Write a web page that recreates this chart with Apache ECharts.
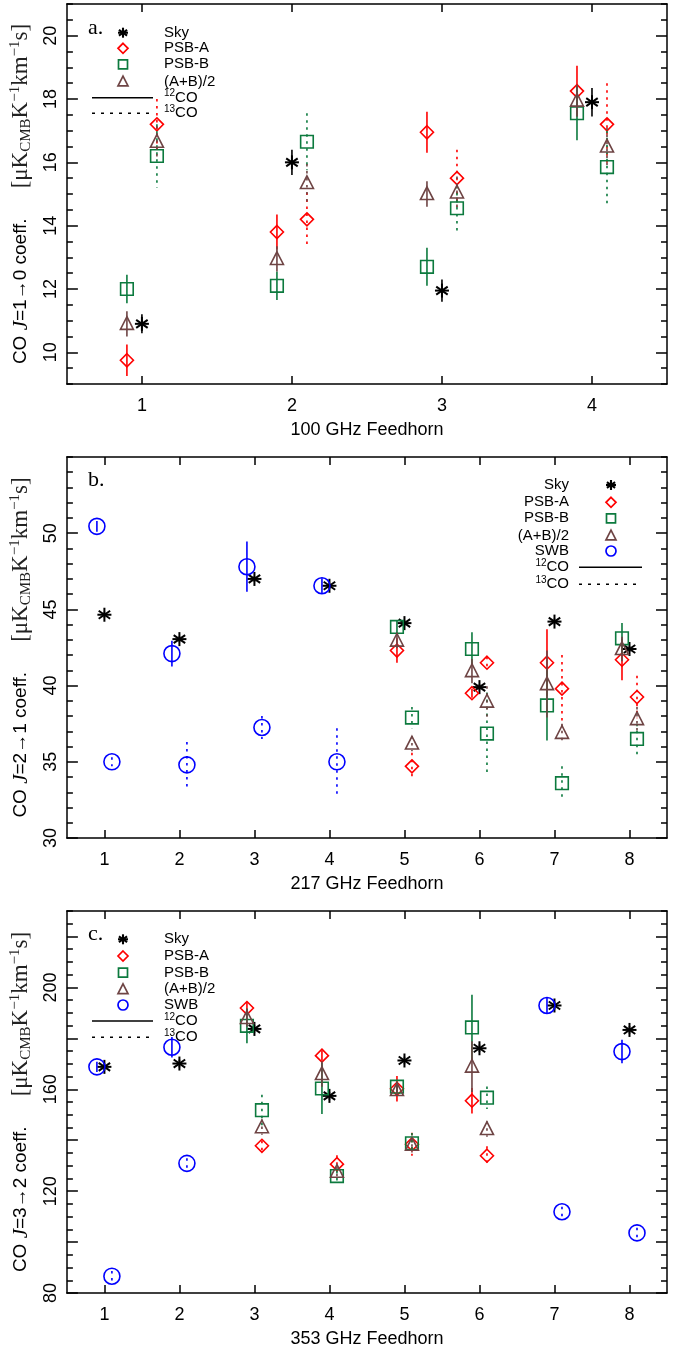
<!DOCTYPE html>
<html>
<head>
<meta charset="utf-8">
<script src="https://cdn.jsdelivr.net/npm/echarts@6/dist/echarts.min.js"></script>
<style>
html, body {margin: 0; padding: 0; background: #fff;}
#main {width: 689px; height: 1351px;}
</style>
</head>
<body>
<div id="main"></div>
<script>
// feedhorns
var feedA = [1, 2, 3, 4];
var feedB = [1, 2, 3, 4, 5, 6, 7, 8];
var feedC = [1, 2, 3, 4, 5, 6, 7, 8];

// y tick labels / major ticks
var yLabelsA = [10, 12, 14, 16, 18, 20];
var yMajorA = [10, 12, 14, 16, 18, 20];
var yLabelsB = [30, 35, 40, 45, 50];
var yMajorB = [30, 35, 40, 45, 50];
var yLabelsC = [80, 120, 160, 200];
var yMajorC = [80, 100, 120, 140, 160, 180, 200, 220];

// a. 100 GHz, CO 1-0
var aSky = [10.9, 16.0, 11.95, 17.9];
var aSkyErr = [0.3, 0.4, 0.35, 0.45];
var aA12 = [9.75, 13.8, 16.95, 18.25];
var aA12Err = [0.5, 0.55, 0.65, 0.8];
var aB12 = [12.0, 12.1, 12.7, 17.55];
var aB12Err = [0.45, 0.45, 0.6, 0.85];
var aAB12 = [10.9, 12.95, 15.0, 17.95];
var aAB12Err = [0.4, 0.4, 0.4, 0.5];
var aA13 = [17.2, 14.2, 15.5, 17.2];
var aA13Err = [0.8, 0.85, 0.9, 1.3];
var aB13 = [16.2, 16.65, 14.55, 15.85];
var aB13Err = [1.0, 0.9, 0.7, 1.15];
var aAB13 = [16.65, 15.35, 15.05, 16.5];
var aAB13Err = [0.5, 0.6, 0.5, 0.6];

// b. 217 GHz, CO 2-1
var bSky = [44.65, 43.05, 47.0, 46.55, 44.1, 39.9, 44.2, 42.4];
var bSkyErr = [0.2, 0.2, 0.2, 0.2, 0.2, 0.2, 0.2, 0.2];
var bSwb12 = [50.45, 42.1, 47.8, 46.55, null, null, null, null];
var bSwb12Err = [0.35, 0.85, 1.65, 0.5, 0, 0, 0, 0];
var bSwb13 = [35.0, 34.8, 37.25, 35.0, null, null, null, null];
var bSwb13Err = [0.3, 1.5, 0.75, 2.2, 0, 0, 0, 0];
var bA12 = [null, null, null, null, 42.3, 39.5, 41.5, 41.7];
var bA12Err = [0, 0, 0, 0, 0.8, 0.3, 2.2, 1.35];
var bB12 = [null, null, null, null, 43.85, 42.4, 38.7, 43.1];
var bB12Err = [0, 0, 0, 0, 0.4, 1.1, 2.3, 1.0];
var bAB12 = [null, null, null, null, 42.95, 40.95, 40.1, 42.4];
var bAB12Err = [0, 0, 0, 0, 0.5, 0.8, 2.2, 0.8];
var bA13 = [null, null, null, null, 34.7, 41.5, 39.8, 39.25];
var bA13Err = [0, 0, 0, 0, 0.9, 0.4, 2.2, 1.4];
var bB13 = [null, null, null, null, 37.9, 36.85, 33.6, 36.5];
var bB13Err = [0, 0, 0, 0, 0.7, 2.7, 1.1, 1.0];
var bAB13 = [null, null, null, null, 36.2, 38.95, 36.9, 37.8];
var bAB13Err = [0, 0, 0, 0, 0.5, 1.0, 0.6, 0.8];

// c. 353 GHz, CO 3-2
var cSky = [168.8, 170.1, 183.7, 157.4, 171.3, 176.1, 192.9, 183.3];
var cSkyErr = [1.5, 1.5, 1.5, 1.5, 1.5, 1.5, 1.5, 1.5];
var cSwb12 = [168.8, 176.5, null, null, null, null, 192.9, 174.8];
var cSwb12Err = [2, 4, 0, 0, 0, 0, 3, 4.6];
var cSwb13 = [86.6, 130.9, null, null, null, null, 111.9, 103.6];
var cSwb13Err = [2, 2, 0, 0, 0, 0, 2, 2];
var cA12 = [null, null, 191.9, 173.2, 160.2, 155.5, null, null];
var cA12Err = [0, 0, 2.5, 2, 5, 5, 0, 0];
var cB12 = [null, null, 184.9, 160.3, 161.0, 184.3, null, null];
var cB12Err = [0, 0, 6.8, 10, 2, 12.8, 0, 0];
var cAB12 = [null, null, 188.0, 166.0, 159.7, 168.9, null, null];
var cAB12Err = [0, 0, 3.5, 5, 2, 10, 0, 0];
var cA13 = [null, null, 137.8, 130.6, 138.4, 133.9, null, null];
var cA13Err = [0, 0, 2, 3.5, 4.5, 3.7, 0, 0];
var cB13 = [null, null, 151.8, 125.9, 138.8, 156.7, null, null];
var cB13Err = [0, 0, 6, 2, 4, 4.4, 0, 0];
var cAB13 = [null, null, 145.1, 127.6, 138.2, 144.4, null, null];
var cAB13Err = [0, 0, 3, 2, 3, 3, 0, 0];

var RED = '#ff0000', GREEN = '#0c7a3e', BROWN = '#6e4444', BLUE = '#0000ff', BLACK = '#000000';
var SANS = 'Liberation Sans, Arial, sans-serif';
var SERIF = 'Liberation Serif, Times New Roman, serif';

var grids = [
    {left: 66, top: 4, width: 601, height: 380},
    {left: 66, top: 457, width: 601, height: 381},
    {left: 66, top: 911, width: 601, height: 382}
];

function range(a, b, step) {
    var out = [];
    for (var v = a; v <= b + 1e-9; v += step) out.push(Math.round(v * 1000) / 1000);
    return out;
}

// marker shapes
function marker(shape, cx, cy, s, color, lw) {
    var st = {stroke: color, fill: 'none', lineWidth: lw};
    if (shape === 'diamond') {
        return {type: 'polygon', shape: {points: [[cx, cy - s], [cx + s, cy], [cx, cy + s], [cx - s, cy]]}, style: st};
    }
    if (shape === 'square') {
        return {type: 'rect', shape: {x: cx - s, y: cy - s, width: 2 * s, height: 2 * s}, style: st};
    }
    if (shape === 'triangle') {
        return {type: 'polygon', shape: {points: [[cx, cy - s * 1.1], [cx + s, cy + s * 0.85], [cx - s, cy + s * 0.85]]}, style: st};
    }
    if (shape === 'circle') {
        return {type: 'circle', shape: {cx: cx, cy: cy, r: s}, style: st};
    }
    // asterisk
    var kids = [];
    var angs = [90, 35, -35, 0];
    for (var i = 0; i < angs.length; i++) {
        var a = angs[i] * Math.PI / 180;
        var dx = Math.cos(a) * s, dy = Math.sin(a) * s;
        kids.push({type: 'line', shape: {x1: cx - dx, y1: cy - dy, x2: cx + dx, y2: cy + dy}, style: {stroke: color, lineWidth: lw + 0.4}});
    }
    return {type: 'group', children: kids};
}

function points(feeds, vals, errs, off) {
    var d = [];
    for (var i = 0; i < feeds.length; i++) {
        if (vals[i] === null) continue;
        d.push([feeds[i] + off, vals[i], errs[i]]);
    }
    return d;
}

function pointSeries(g, name, data, shape, color, dotted, size) {
    return {
        type: 'custom',
        name: name,
        xAxisIndex: 2 * g,
        yAxisIndex: 4 * g,
        clip: false,
        data: data,
        renderItem: function (params, api) {
            var x = api.value(0), y = api.value(1), e = api.value(2);
            var c = api.coord([x, y]);
            var t = api.coord([x, y + e]);
            var b = api.coord([x, y - e]);
            return {
                type: 'group',
                children: [
                    {type: 'line', shape: {x1: c[0], y1: t[1], x2: c[0], y2: b[1]},
                        style: {stroke: color, lineWidth: 1.6, lineDash: dotted ? [2.5, 4.5] : null}},
                    marker(shape, c[0], c[1], size, color, 1.6)
                ]
            };
        }
    };
}

var xAxes = [], yAxes = [];
function addAxes(g, xmax, feeds, ymin, ymax, major, labels, minorStep, xName, yName) {
    var minor = range(ymin, ymax, minorStep).filter(function (v) { return major.indexOf(v) < 0; });
    var line = {show: true, lineStyle: {color: '#000', width: 1.5}};
    var xl = {fontFamily: SANS, fontSize: 18, color: '#000', margin: 13, customValues: feeds};
    xAxes.push({type: 'value', gridIndex: g, min: 0.5, max: xmax, position: 'bottom',
        axisLine: line, splitLine: {show: false},
        axisTick: {inside: true, length: 8, customValues: feeds, lineStyle: {color: '#000', width: 1.5}},
        axisLabel: xl,
        name: xName, nameLocation: 'middle', nameGap: 37,
        nameTextStyle: {fontFamily: SANS, fontSize: 18, color: '#000'}});
    xAxes.push({type: 'value', gridIndex: g, min: 0.5, max: xmax, position: 'top',
        axisLine: line, splitLine: {show: false},
        axisTick: {inside: true, length: 8, customValues: feeds, lineStyle: {color: '#000', width: 1.5}},
        axisLabel: {show: false}});
    var nameRich = {
        t: {fontFamily: SANS, fontSize: 19, color: '#000', lineHeight: 26},
        gap: {fontFamily: SANS, fontSize: 19, width: 30, lineHeight: 26},
        it: {fontFamily: SERIF, fontStyle: 'italic', fontSize: 21, color: '#000', lineHeight: 26},
        s: {fontFamily: SERIF, fontSize: 23, color: '#222', lineHeight: 26},
        sub: {fontFamily: SERIF, fontSize: 15, color: '#222', verticalAlign: 'bottom', lineHeight: 26},
        sup: {fontFamily: SERIF, fontSize: 15, color: '#222', verticalAlign: 'top', lineHeight: 20}
    };
    yAxes.push({type: 'value', gridIndex: g, min: ymin, max: ymax, position: 'left',
        axisLine: line, splitLine: {show: false},
        axisTick: {inside: true, length: 11, customValues: major, lineStyle: {color: '#000', width: 1.5}},
        axisLabel: {rotate: 90, fontFamily: SANS, fontSize: 18, color: '#000', margin: 7, customValues: labels},
        name: yName, nameLocation: 'middle', nameGap: 27, nameRotate: 90,
        nameTextStyle: {rich: nameRich}});
    yAxes.push({type: 'value', gridIndex: g, min: ymin, max: ymax, position: 'left',
        axisLine: {show: false}, splitLine: {show: false},
        axisTick: {inside: true, length: 6, customValues: minor, lineStyle: {color: '#000', width: 1.5}},
        axisLabel: {show: false}});
    yAxes.push({type: 'value', gridIndex: g, min: ymin, max: ymax, position: 'right',
        axisLine: line, splitLine: {show: false},
        axisTick: {inside: true, length: 11, customValues: major, lineStyle: {color: '#000', width: 1.5}},
        axisLabel: {show: false}});
    yAxes.push({type: 'value', gridIndex: g, min: ymin, max: ymax, position: 'right',
        axisLine: {show: false}, splitLine: {show: false},
        axisTick: {inside: true, length: 6, customValues: minor, lineStyle: {color: '#000', width: 1.5}},
        axisLabel: {show: false}});
}

function yTitle(tr) {
    return '{t|CO }{it|J}{t|=' + tr + ' coeff.}{gap|}{s|[μK}{sub|CMB}{s|K}{sup|−1}{s|km}{sup|−1}{s|s]}';
}

addAxes(0, 4.5, feedA, 9, 21, yMajorA, yLabelsA, 0.5, '100 GHz Feedhorn', yTitle('1→0'));
addAxes(1, 8.5, feedB, 30, 55, yMajorB, yLabelsB, 1, '217 GHz Feedhorn', yTitle('2→1'));
addAxes(2, 8.5, feedC, 80, 230, yMajorC, yLabelsC, 5, '353 GHz Feedhorn', yTitle('3→2'));

var series = [
    pointSeries(0, 'Sky', points(feedA, aSky, aSkyErr, 0), 'asterisk', BLACK, false, 7),
    pointSeries(0, 'PSB-A 12', points(feedA, aA12, aA12Err, -0.1), 'diamond', RED, false, 6.5),
    pointSeries(0, 'PSB-B 12', points(feedA, aB12, aB12Err, -0.1), 'square', GREEN, false, 6.3),
    pointSeries(0, 'AB 12', points(feedA, aAB12, aAB12Err, -0.1), 'triangle', BROWN, false, 6.5),
    pointSeries(0, 'PSB-A 13', points(feedA, aA13, aA13Err, 0.1), 'diamond', RED, true, 6.5),
    pointSeries(0, 'PSB-B 13', points(feedA, aB13, aB13Err, 0.1), 'square', GREEN, true, 6.3),
    pointSeries(0, 'AB 13', points(feedA, aAB13, aAB13Err, 0.1), 'triangle', BROWN, true, 6.5),

    pointSeries(1, 'Sky', points(feedB, bSky, bSkyErr, 0), 'asterisk', BLACK, false, 7),
    pointSeries(1, 'SWB 12', points(feedB, bSwb12, bSwb12Err, -0.1), 'circle', BLUE, false, 8),
    pointSeries(1, 'SWB 13', points(feedB, bSwb13, bSwb13Err, 0.1), 'circle', BLUE, true, 8),
    pointSeries(1, 'PSB-A 12', points(feedB, bA12, bA12Err, -0.1), 'diamond', RED, false, 6.5),
    pointSeries(1, 'PSB-B 12', points(feedB, bB12, bB12Err, -0.1), 'square', GREEN, false, 6.3),
    pointSeries(1, 'AB 12', points(feedB, bAB12, bAB12Err, -0.1), 'triangle', BROWN, false, 6.5),
    pointSeries(1, 'PSB-A 13', points(feedB, bA13, bA13Err, 0.1), 'diamond', RED, true, 6.5),
    pointSeries(1, 'PSB-B 13', points(feedB, bB13, bB13Err, 0.1), 'square', GREEN, true, 6.3),
    pointSeries(1, 'AB 13', points(feedB, bAB13, bAB13Err, 0.1), 'triangle', BROWN, true, 6.5),

    pointSeries(2, 'Sky', points(feedC, cSky, cSkyErr, 0), 'asterisk', BLACK, false, 7),
    pointSeries(2, 'SWB 12', points(feedC, cSwb12, cSwb12Err, -0.1), 'circle', BLUE, false, 8),
    pointSeries(2, 'SWB 13', points(feedC, cSwb13, cSwb13Err, 0.1), 'circle', BLUE, true, 8),
    pointSeries(2, 'PSB-A 12', points(feedC, cA12, cA12Err, -0.1), 'diamond', RED, false, 6.5),
    pointSeries(2, 'PSB-B 12', points(feedC, cB12, cB12Err, -0.1), 'square', GREEN, false, 6.3),
    pointSeries(2, 'AB 12', points(feedC, cAB12, cAB12Err, -0.1), 'triangle', BROWN, false, 6.5),
    pointSeries(2, 'PSB-A 13', points(feedC, cA13, cA13Err, 0.1), 'diamond', RED, true, 6.5),
    pointSeries(2, 'PSB-B 13', points(feedC, cB13, cB13Err, 0.1), 'square', GREEN, true, 6.3),
    pointSeries(2, 'AB 13', points(feedC, cAB13, cAB13Err, 0.1), 'triangle', BROWN, true, 6.5)
];

// legends
var legendItems = [
    ['Sky', 'asterisk', BLACK],
    ['PSB-A', 'diamond', RED],
    ['PSB-B', 'square', GREEN],
    ['(A+B)/2', 'triangle', BROWN],
    ['SWB', 'circle', BLUE]
];
var graphics = [];
function addLegend(label, lx, ly, symX, textX, rows, lineX1, lineX2, rightAlign, withSwb) {
    graphics.push({type: 'text', left: lx, top: ly, style: {text: label, font: '22px ' + SERIF, fill: '#000'}});
    var n = withSwb ? 5 : 4;
    for (var i = 0; i < n; i++) {
        var it = legendItems[i];
        var m = marker(it[1], symX, rows[i], it[1] === 'square' ? 4.5 : 5, it[2], 1.7);
        graphics.push(m);
        graphics.push({type: 'text', x: textX, y: rows[i], style: {text: it[0], font: '15px ' + SANS, fill: '#000',
            textAlign: rightAlign ? 'right' : 'left', textVerticalAlign: 'middle'}});
    }
    var r12 = rows[n], r13 = rows[n + 1];
    graphics.push({type: 'line', shape: {x1: lineX1, y1: r12, x2: lineX2, y2: r12}, style: {stroke: '#000', lineWidth: 1.6}});
    graphics.push({type: 'line', shape: {x1: lineX1, y1: r13, x2: lineX2, y2: r13}, style: {stroke: '#000', lineWidth: 1.6, lineDash: [3, 6]}});
    var isos = [['12', r12], ['13', r13]];
    for (var k = 0; k < 2; k++) {
        graphics.push({type: 'text', x: textX, y: isos[k][1], style: {
            text: '{p|' + isos[k][0] + '}{q|CO}', textAlign: rightAlign ? 'right' : 'left', textVerticalAlign: 'middle',
            rich: {p: {fontFamily: SANS, fontSize: 10, fill: '#000', verticalAlign: 'top', lineHeight: 18},
                q: {fontFamily: SANS, fontSize: 15, fill: '#000', lineHeight: 18}}}});
    }
}
addLegend('a.', 88, 17, 123, 164, [32.7, 48.3, 64.3, 81.7, 97.7, 113.3], 92, 153, false, false);
addLegend('b.', 88, 469, 611, 569, [485, 502.3, 518.3, 535.7, 551, 567.3, 584.3], 579, 642, true, true);
addLegend('c.', 88, 923, 123, 164, [939.3, 956, 972.7, 989.3, 1005, 1021, 1037.3], 92, 153, false, true);

var myChart = echarts.init(document.getElementById('main'), null, {renderer: 'canvas'});
myChart.setOption({
    animation: false,
    backgroundColor: '#fff',
    grid: grids,
    xAxis: xAxes,
    yAxis: yAxes,
    series: series,
    graphic: graphics
});
</script>
</body>
</html>
